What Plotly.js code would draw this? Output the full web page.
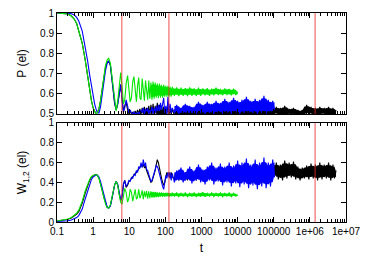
<!DOCTYPE html>
<html>
<head>
<meta charset="utf-8">
<script src="https://cdn.plot.ly/plotly-3.0.1.min.js"></script>
<style>
  html, body { margin: 0; padding: 0; background: #fff; }
  #chart { width: 365px; height: 256px; }
</style>
</head>
<body>
<div id="chart"></div>
<script>
// shared time grid (t), each series uses the first N points
const t = [
  0.1, 0.15, 0.2, 0.25, 0.3, 0.35, 0.4, 0.5, 0.6, 0.7, 0.8, 0.9, 1, 1.1, 1.2, 1.3, 1.45, 1.6, 1.8, 2,
  2.2, 2.45, 2.7, 3, 3.3, 3.6, 3.95, 4.35, 4.8, 5.3, 5.8,
  6.3, 6.9, 7.5, 8.2, 9.0, 9.8, 10.6, 11.5, 12.5, 13.5, 14.6, 15.8, 17, 18.3, 19.7, 21.2, 22.8, 24.5,
  26.3, 28.2, 30.2, 32.4, 34.7, 37.2, 39.8, 42.6, 45.6, 48.8, 52.2, 55.9, 59.8, 64, 68.5, 73.3, 78.4,
  83.9, 89.8, 96, 103, 110, 118, 126, 135, 145, 155,
  178, 205, 235, 270, 310, 357, 410, 472, 543, 624, 718, 825, 949, 1090, 1255, 1443, 1660, 1908, 2195,
  2524, 2903, 3338, 3839, 4415, 5077, 5838, 6714, 7721, 8880, 10000,
  11500, 13200, 15200, 17500, 20100, 23100, 26600, 30600, 35200, 40400, 46500, 53500, 61500, 70700,
  81300, 93500, 105000,
  118000, 134000, 152000, 175000, 201000, 231000, 266000, 306000, 352000, 405000, 465000, 535000,
  615000, 708000, 814000, 936000, 1076000, 1238000, 1423000, 1637000, 1882000, 2165000, 2489000,
  2863000, 3292000, 3786000, 4354000, 4800000, 5300000
];

// P (el), upper panel
const pGreen = [
  1, 0.999, 0.995, 0.985, 0.97, 0.948, 0.915, 0.85, 0.77, 0.69, 0.62, 0.565, 0.53, 0.51, 0.5, 0.505,
  0.525, 0.565, 0.635, 0.695, 0.74, 0.768, 0.776, 0.752, 0.69, 0.615, 0.55, 0.515, 0.565, 0.655, 0.705,
  0.64, 0.55, 0.57, 0.65, 0.69, 0.63, 0.56, 0.58, 0.66, 0.685, 0.6, 0.56, 0.64, 0.68, 0.58, 0.57, 0.675,
  0.62, 0.565, 0.665, 0.6, 0.57, 0.665, 0.575, 0.655, 0.57, 0.66, 0.575, 0.655, 0.58, 0.65, 0.578, 0.65,
  0.58, 0.645, 0.58, 0.645, 0.585, 0.64, 0.585, 0.64, 0.585, 0.635, 0.585, 0.635,
  0.59, 0.632, 0.588, 0.63, 0.59, 0.628, 0.588, 0.632, 0.59, 0.627, 0.589, 0.63, 0.59, 0.626, 0.592,
  0.628, 0.59, 0.625, 0.592, 0.63, 0.593, 0.624, 0.592, 0.627, 0.594, 0.624, 0.592, 0.625, 0.594, 0.61
];
const pBlue = [
  1, 1, 0.999, 0.996, 0.99, 0.978, 0.96, 0.91, 0.84, 0.765, 0.695, 0.635, 0.585, 0.55, 0.525, 0.508,
  0.505, 0.535, 0.6, 0.665, 0.715, 0.75, 0.762, 0.745, 0.69, 0.62, 0.555, 0.52, 0.55, 0.61, 0.645,
  0.57, 0.51, 0.53, 0.57, 0.54, 0.505, 0.52, 0.505, 0.5, 0.51, 0.5, 0.505, 0.5, 0.51, 0.5, 0.52, 0.505,
  0.53, 0.5, 0.525, 0.505, 0.53, 0.5, 0.52, 0.505, 0.535, 0.5, 0.53, 0.505, 0.54, 0.505, 0.545, 0.51,
  0.555, 0.52, 0.55, 0.58, 0.505, 0.54, 0.5, 0.585, 0.51, 0.55, 0.505, 0.53,
  0.505, 0.545, 0.5, 0.53, 0.505, 0.55, 0.5, 0.54, 0.505, 0.535, 0.5, 0.56, 0.505, 0.545, 0.5, 0.56,
  0.505, 0.55, 0.5, 0.565, 0.505, 0.555, 0.5, 0.575, 0.505, 0.56, 0.5, 0.58, 0.505, 0.565,
  0.5, 0.57, 0.505, 0.585, 0.5, 0.565, 0.505, 0.575, 0.5, 0.57, 0.505, 0.59, 0.5, 0.57, 0.505, 0.565, 0.52
];
const pBlack = [
  1, 0.999, 0.995, 0.985, 0.97, 0.948, 0.915, 0.85, 0.77, 0.69, 0.62, 0.565, 0.53, 0.51, 0.5, 0.505,
  0.525, 0.565, 0.63, 0.69, 0.732, 0.757, 0.762, 0.74, 0.685, 0.615, 0.55, 0.52, 0.55, 0.615, 0.645,
  0.58, 0.51, 0.54, 0.56, 0.52, 0.5, 0.515, 0.5, 0.51, 0.495, 0.515, 0.5, 0.52, 0.5, 0.525, 0.495, 0.53,
  0.5, 0.535, 0.495, 0.53, 0.5, 0.54, 0.495, 0.545, 0.5, 0.55, 0.495, 0.54, 0.5, 0.555, 0.495, 0.545,
  0.49, 0.54, 0.5, 0.535, 0.49, 0.53, 0.5, 0.545, 0.49, 0.53, 0.495, 0.525,
  0.49, 0.53, 0.495, 0.525, 0.485, 0.52, 0.495, 0.53, 0.49, 0.525, 0.495, 0.53, 0.485, 0.52, 0.495,
  0.53, 0.49, 0.525, 0.495, 0.52, 0.49, 0.53, 0.495, 0.52, 0.49, 0.525, 0.495, 0.52, 0.49, 0.525,
  0.495, 0.52, 0.49, 0.53, 0.495, 0.52, 0.49, 0.525, 0.495, 0.52, 0.49, 0.53, 0.495, 0.52, 0.49, 0.53, 0.5,
  0.535, 0.495, 0.53, 0.49, 0.54, 0.495, 0.525, 0.5, 0.53, 0.49, 0.52, 0.5, 0.52, 0.495, 0.545, 0.5,
  0.535, 0.495, 0.53, 0.49, 0.535, 0.5, 0.53, 0.495, 0.535, 0.49, 0.53, 0.495, 0.52
];

// W_1,2 (el), lower panel
const wGreen = [
  0.01, 0.02, 0.03, 0.045, 0.065, 0.09, 0.12, 0.21, 0.31, 0.38, 0.43, 0.46, 0.47, 0.477, 0.477, 0.47,
  0.44, 0.39, 0.31, 0.24, 0.18, 0.145, 0.14, 0.17, 0.24, 0.32, 0.38, 0.41, 0.37, 0.27, 0.2,
  0.18, 0.28, 0.34, 0.3, 0.2, 0.24, 0.33, 0.3, 0.21, 0.27, 0.33, 0.23, 0.25, 0.33, 0.24, 0.27, 0.32,
  0.23, 0.31, 0.25, 0.315, 0.235, 0.31, 0.24, 0.31, 0.245, 0.305, 0.245, 0.305, 0.25, 0.3, 0.25, 0.3,
  0.255, 0.3, 0.255, 0.295, 0.255, 0.295, 0.26, 0.295, 0.255, 0.29, 0.26, 0.295,
  0.26, 0.295, 0.255, 0.29, 0.26, 0.295, 0.255, 0.29, 0.26, 0.295, 0.255, 0.29, 0.26, 0.3, 0.255,
  0.29, 0.26, 0.295, 0.255, 0.29, 0.26, 0.295, 0.255, 0.29, 0.26, 0.295, 0.255, 0.29, 0.26, 0.275
];
const wBlue = [
  0.005, 0.008, 0.012, 0.02, 0.03, 0.045, 0.065, 0.13, 0.23, 0.31, 0.38, 0.43, 0.455, 0.47, 0.475, 0.475,
  0.455, 0.41, 0.33, 0.26, 0.19, 0.15, 0.14, 0.16, 0.23, 0.31, 0.375, 0.41, 0.38, 0.3, 0.23,
  0.25, 0.38, 0.42, 0.36, 0.38, 0.42, 0.41, 0.45, 0.44, 0.48, 0.47, 0.52, 0.5, 0.56, 0.54, 0.6, 0.55,
  0.63, 0.56, 0.6, 0.53, 0.52, 0.48, 0.44, 0.41, 0.42, 0.45, 0.5, 0.53, 0.57, 0.56, 0.53, 0.48, 0.44,
  0.4, 0.36, 0.33, 0.4, 0.47, 0.44, 0.5, 0.45, 0.5, 0.42, 0.49,
  0.4, 0.52, 0.42, 0.55, 0.4, 0.5, 0.43, 0.56, 0.39, 0.52, 0.42, 0.58, 0.4, 0.53, 0.38, 0.56, 0.42,
  0.6, 0.38, 0.55, 0.41, 0.59, 0.37, 0.56, 0.4, 0.6, 0.36, 0.57, 0.39, 0.62,
  0.35, 0.6, 0.38, 0.64, 0.34, 0.58, 0.37, 0.63, 0.33, 0.6, 0.36, 0.65, 0.34, 0.6, 0.36, 0.63, 0.45
];
const wBlack = [
  0.01, 0.018, 0.027, 0.04, 0.058, 0.08, 0.105, 0.19, 0.29, 0.37, 0.42, 0.455, 0.468, 0.476, 0.477,
  0.472, 0.445, 0.395, 0.315, 0.245, 0.185, 0.148, 0.14, 0.165, 0.235, 0.315, 0.378, 0.41, 0.375, 0.28, 0.215,
  0.25, 0.38, 0.42, 0.35, 0.37, 0.41, 0.42, 0.44, 0.46, 0.47, 0.49, 0.5, 0.52, 0.54, 0.55, 0.57, 0.56,
  0.58, 0.55, 0.56, 0.52, 0.49, 0.46, 0.43, 0.4, 0.41, 0.44, 0.48, 0.52, 0.58, 0.63, 0.6, 0.53, 0.48,
  0.44, 0.4, 0.37, 0.4, 0.46, 0.5, 0.47, 0.5, 0.44, 0.5, 0.46,
  0.43, 0.5, 0.42, 0.51, 0.44, 0.5, 0.42, 0.52, 0.43, 0.5, 0.42, 0.51, 0.44, 0.52, 0.43, 0.5, 0.44,
  0.53, 0.43, 0.51, 0.44, 0.53, 0.43, 0.52, 0.45, 0.53, 0.44, 0.54, 0.45, 0.53,
  0.44, 0.55, 0.45, 0.54, 0.44, 0.56, 0.45, 0.55, 0.44, 0.56, 0.45, 0.55, 0.44, 0.56, 0.45, 0.55, 0.46,
  0.6, 0.43, 0.58, 0.42, 0.62, 0.44, 0.6, 0.45, 0.61, 0.43, 0.56, 0.42, 0.55, 0.44, 0.57, 0.43, 0.59,
  0.44, 0.58, 0.42, 0.6, 0.43, 0.58, 0.44, 0.6, 0.42, 0.58, 0.44, 0.52
];

// vertical red marker lines (t values)
const redLines = [6.2, 125, 1400000];

const xTickVals = [0.1, 1, 10, 100, 1000, 10000, 100000, 1e6, 1e7];
const xTickText = ['0.1', '1', '10', '100', '1000', '10000', '100000', '1e+06', '1e+07'];

const colors = { black: '#000000', blue: '#0000ff', green: '#00e600', red: 'rgba(235,40,40,0.55)' };

// index in t where each curve turns into a dense noise band
const bandStart = { pGreen: 55, pBlue: 76, pBlack: 76, wGreen: 55, wBlue: 76, wBlack: 76 };

// minor ticks 2..9 in every decade
const minorTicks = [];
for (let e = -1; e < 7; e++) {
    for (let k = 2; k <= 9; k++) minorTicks.push(k * Math.pow(10, e));
}

function line(values, color, xa, ya) {
    return {
        x: t.slice(0, values.length),
        y: values,
        type: 'scatter',
        mode: 'lines',
        line: { color: color, width: 1.1 },
        xaxis: xa,
        yaxis: ya,
        hoverinfo: 'skip'
    };
}

// filled core of the fast oscillating part; the line's tips stick out of it as spikes
function band(values, start, color, xa, ya) {
    const seg = values.slice(start);
    const xs = t.slice(start, values.length);
    const shrink = 0.7;
    const hi = [], lo = [];
    seg.forEach((v, i) => {
        const a = seg[i - 1] ?? v, b = seg[i + 1] ?? v;
        const top = Math.max(v, a, b), bot = Math.min(v, a, b);
        const mid = (top + bot) / 2;
        hi.push(mid + shrink * (top - mid));
        lo.push(mid - shrink * (mid - bot));
    });
    return {
        x: xs.concat(xs.slice().reverse()),
        y: hi.concat(lo.slice().reverse()),
        type: 'scatter',
        mode: 'lines',
        fill: 'toself',
        fillcolor: color,
        line: { width: 0, color: color },
        xaxis: xa,
        yaxis: ya,
        hoverinfo: 'skip'
    };
}

const traces = [
    band(pBlack, bandStart.pBlack, colors.black, 'x2', 'y2'),
    line(pBlack, colors.black, 'x2', 'y2'),
    band(pBlue, bandStart.pBlue, colors.blue, 'x2', 'y2'),
    line(pBlue, colors.blue, 'x2', 'y2'),
    band(pGreen, bandStart.pGreen, colors.green, 'x2', 'y2'),
    line(pGreen, colors.green, 'x2', 'y2'),
    band(wBlack, bandStart.wBlack, colors.black, 'x', 'y'),
    line(wBlack, colors.black, 'x', 'y'),
    band(wBlue, bandStart.wBlue, colors.blue, 'x', 'y'),
    line(wBlue, colors.blue, 'x', 'y'),
    band(wGreen, bandStart.wGreen, colors.green, 'x', 'y'),
    line(wGreen, colors.green, 'x', 'y')
];

redLines.forEach(v => {
    traces.push({ x: [v, v], y: [0.5, 1], xaxis: 'x2', yaxis: 'y2', type: 'scatter', mode: 'lines',
        line: { color: colors.red, width: 1.5 }, hoverinfo: 'skip' });
    traces.push({ x: [v, v], y: [0, 1], xaxis: 'x', yaxis: 'y', type: 'scatter', mode: 'lines',
        line: { color: colors.red, width: 1.5 }, hoverinfo: 'skip' });
});

const axisStyle = {
    showline: true,
    linecolor: '#000',
    linewidth: 1,
    mirror: 'allticks',
    ticks: 'inside',
    ticklen: 5,
    tickcolor: '#000',
    showgrid: false,
    zeroline: false
};

const layout = {
    width: 365,
    height: 256,
    margin: { l: 57, r: 19, t: 13, b: 34 },
    paper_bgcolor: '#fff',
    plot_bgcolor: '#fff',
    showlegend: false,
    font: { family: 'Liberation Sans, Arial, sans-serif', size: 10, color: '#000' },
    xaxis: Object.assign({}, axisStyle, {
        type: 'log', range: [-1, 7], anchor: 'y',
        tickmode: 'array', tickvals: xTickVals, ticktext: xTickText,
        minor: { tickmode: 'array', tickvals: minorTicks, ticks: 'inside', ticklen: 3, tickcolor: '#000', showgrid: false },
        title: { text: 't', standoff: 7 }
    }),
    xaxis2: Object.assign({}, axisStyle, {
        type: 'log', range: [-1, 7], anchor: 'y2', matches: 'x', showticklabels: false,
        tickmode: 'array', tickvals: xTickVals,
        minor: { tickmode: 'array', tickvals: minorTicks, ticks: 'inside', ticklen: 3, tickcolor: '#000', showgrid: false }
    }),
    yaxis: Object.assign({}, axisStyle, {
        domain: [0, 0.474], range: [0, 1], dtick: 0.2, anchor: 'x',
        title: { text: 'W<sub>1,2</sub> (el)', standoff: 10 }
    }),
    yaxis2: Object.assign({}, axisStyle, {
        domain: [0.517, 1], range: [0.5, 1], dtick: 0.1, anchor: 'x2',
        title: { text: 'P (el)', standoff: 10 }
    })
};

Plotly.newPlot('chart', traces, layout, { staticPlot: true, displayModeBar: false });
</script>
</body>
</html>
